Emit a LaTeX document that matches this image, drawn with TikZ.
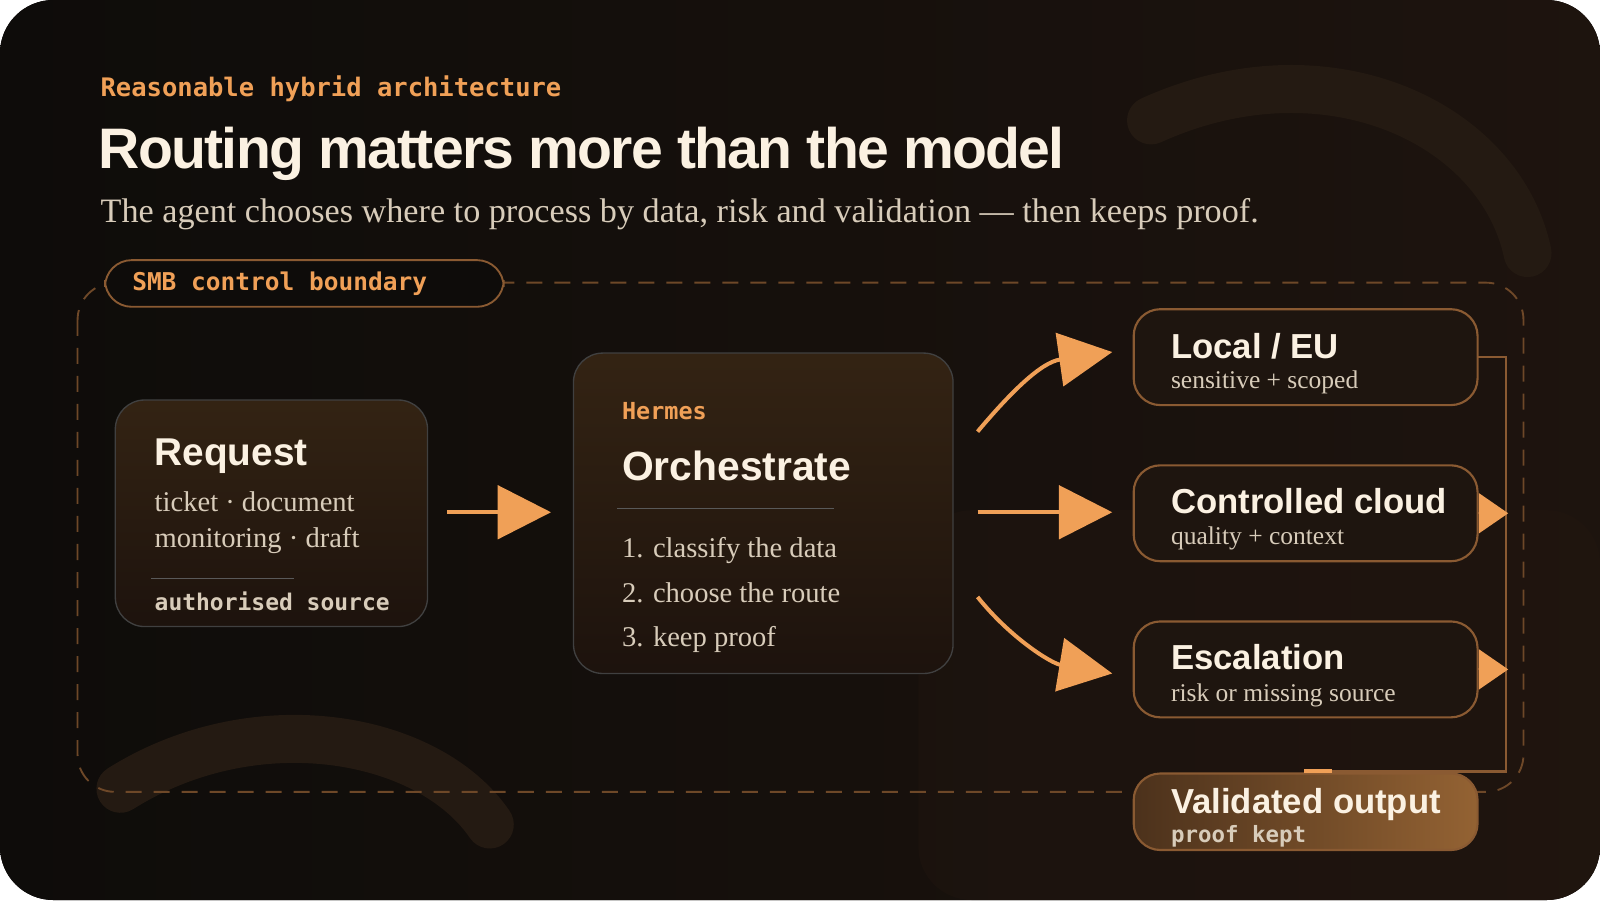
\documentclass[tikz,border=0pt]{standalone}
\usepackage{fontspec}
\setmainfont{Liberation Serif}
\setsansfont{Liberation Sans}
\setmonofont{DejaVu Sans Mono}
\usetikzlibrary{arrows.meta}
\definecolor{bgA}{HTML}{0E0C0A}
\definecolor{bgB}{HTML}{241710}
\definecolor{orng}{HTML}{F0A057}
\definecolor{cream}{HTML}{FBF1E2}
\definecolor{soft}{HTML}{D8CCBA}
\definecolor{edge}{HTML}{8A5A32}
\definecolor{boxf}{HTML}{1E150F}
\definecolor{arcc}{HTML}{241A12}
\newcommand{\fpx}[1]{\fontsize{\fpeval{#1*0.7653}pt}{\fpeval{#1*0.9}pt}\selectfont}
\tikzset{x=0.7653pt,y=-0.7653pt,
 routebox/.style={draw=edge,line width=1.6pt,rounded corners=20pt,fill=boxf},
 cardbox/.style={draw=white!25!black,line width=1pt,rounded corners=22pt,top color=black!60!brown!60!bgA,bottom color=bgB!80!black},
 bigarrow/.style={orng,line width=3pt,-{Triangle[length=40pt,width=40pt]}},
 smallarrow/.style={edge,line width=1.4pt,-{Triangle[length=22pt,width=30pt,color=orng,fill=orng]}},
 ttl/.style={anchor=base west,text=cream,font=\sffamily\bfseries\fpx{34}},
 sub/.style={anchor=base west,text=soft,font=\rmfamily\fpx{25}},
}
\begin{document}
\begin{tikzpicture}
\useasboundingbox (0,0) rectangle (1568,882);
\fill[left color=bgA,right color=bgB!70!bgA,rounded corners=40pt] (0,0) rectangle (1568,882);
\fill[bgB,opacity=0.35,rounded corners=40pt] (900,500) rectangle (1568,882);
% decorative arcs
\draw[arcc,line width=36pt,line cap=round] (1128,118) .. controls (1300,40) and (1470,120) .. (1497,248);
\draw[arcc,line width=36pt,line cap=round] (118,773) .. controls (250,690) and (420,720) .. (480,808);
% header
\node[anchor=base west,text=orng,font=\ttfamily\bfseries\fpx{25}] (kick) at (94,95) {Reasonable hybrid architecture};
\node[anchor=base west,text=cream,font=\sffamily\bfseries\fpx{56}] (title) at (92,165) {\addfontfeature{LetterSpace=-3}Routing matters more than the model};
\node[anchor=base west,text=soft,font=\rmfamily\fpx{33.5}] (subt) at (94,218) {The agent chooses where to process by data, risk and validation — then keeps proof.};
% boundary
\draw[edge!80!black,line width=1.4pt,dash pattern=on 12pt off 9pt,rounded corners=28pt] (76,277) rectangle (1493,776);
\node[draw=edge,line width=1.4pt,fill=bgA,rounded corners=20pt,minimum width=299pt,minimum height=35pt,anchor=north west,inner sep=0pt] (pill) at (102,254) {};
\node[anchor=base west,text=orng,font=\ttfamily\bfseries\fpx{24}] (pilltxt) at (125,285) {SMB control boundary};
% request card
\draw[cardbox] (113,392) rectangle (419,614);
\node[anchor=base west,text=cream,font=\sffamily\bfseries\fpx{38}] (reqt) at (147,456) {Request};
\node[sub,font=\rmfamily\fpx{28}] (r1) at (147,501) {ticket · document};
\node[sub,font=\rmfamily\fpx{28}] (r2) at (147,537) {monitoring · draft};
\draw[white!35!black,line width=1pt] (148,567) -- (288,567);
\node[anchor=base west,text=soft,font=\ttfamily\bfseries\fpx{22.5}] (r3) at (147,598) {authorised source};
% orchestrate card
\draw[cardbox] (562,346) rectangle (934,660);
\node[anchor=base west,text=orng,font=\ttfamily\bfseries\fpx{23}] (herm) at (605,411) {Hermes};
\node[anchor=base west,text=cream,font=\sffamily\bfseries\fpx{40}] (orch) at (605,471) {Orchestrate};
\draw[white!35!black,line width=1pt] (605,498) -- (817,498);
\node[sub,font=\rmfamily\fpx{28}] (o1) at (605,546) {1. classify the data};
\node[sub,font=\rmfamily\fpx{28}] (o2) at (605,590) {2. choose the route};
\node[sub,font=\rmfamily\fpx{28}] (o3) at (605,634) {3. keep proof};
% right boxes
\draw[routebox] (1111,303) rectangle (1448,397);
\node[ttl] (l1) at (1143,351) {Local / EU};
\node[sub] (l2) at (1143,381) {sensitive + scoped};
\draw[routebox] (1111,456) rectangle (1448,550);
\node[ttl] (c1) at (1143,503) {Controlled cloud};
\node[sub] (c2) at (1143,534) {quality + context};
\draw[routebox] (1111,609) rectangle (1448,703);
\node[ttl] (e1) at (1143,656) {Escalation};
\node[sub] (e2) at (1143,687) {risk or missing source};
\draw[draw=edge,line width=1.6pt,rounded corners=20pt,left color=edge!55!black,right color=orng!40!brown!70!black] (1111,758) rectangle (1448,833);
\node[ttl] (v1) at (1143,797) {Validated output};
\node[anchor=base west,text=soft,font=\ttfamily\bfseries\fpx{22}] (v2) at (1143,826) {proof kept};
% arrows
\coordinate (a0) at (438,502); \coordinate (a1) at (540,502);
\draw[bigarrow] (a0) -- (a1);
\coordinate (b0) at (958,423); \coordinate (b1) at (1090,345);
\draw[bigarrow] (b0) .. controls (990,385) and (1020,355) .. (b1);
\coordinate (c0) at (958,502); \coordinate (c1x) at (1090,502);
\draw[bigarrow] (c0) -- (c1x);
\coordinate (d0) at (958,585); \coordinate (d1) at (1090,660);
\draw[bigarrow] (d0) .. controls (990,625) and (1030,650) .. (d1);
% bracket
\draw[edge,line width=1.6pt] (1448,350) -- (1476,350) -- (1476,756) -- (1280,756);
\draw[orng,line width=3pt] (1278,756) -- (1305,756);
\coordinate (s1) at (1448,503); \coordinate (s1e) at (1478,503);
\draw[smallarrow] (s1) -- (s1e);
\coordinate (s2) at (1448,656); \coordinate (s2e) at (1478,656);
\draw[smallarrow] (s2) -- (s2e);
\end{tikzpicture}
\end{document}
